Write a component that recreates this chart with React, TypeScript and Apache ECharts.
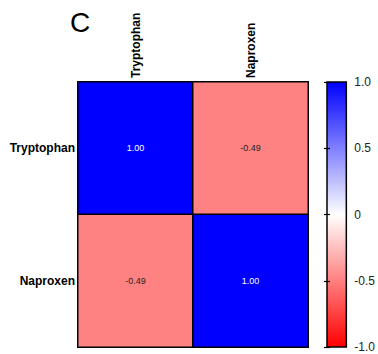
import React, { useEffect, useRef } from "react";
import * as echarts from "echarts";

const colCategories = ["Tryptophan", "Naproxen"];
const rowCategories = ["Tryptophan", "Naproxen"];
// [colIndex, rowIndex, value]
const correlations: [number, number, number][] = [
  [0, 0, 1.0],
  [1, 0, -0.49],
  [0, 1, -0.49],
  [1, 1, 1.0],
];
const colorbarTicks = [-1, -0.5, 0, 0.5, 1];
const colorbarLabels: Record<string, string> = { "-1": "-1.0", "-0.5": "-0.5", "0": "0", "0.5": "0.5", "1": "1.0" };
const panelLetter = "C";

export default function App() {
  const ref = useRef<HTMLDivElement>(null);
  useEffect(() => {
    if (!ref.current) return;
    const chart = echarts.init(ref.current, undefined, { renderer: "svg" });
    const font = "'Liberation Sans', Arial, sans-serif";
    chart.setOption({
      animation: false,
      textStyle: { fontFamily: font },
      title: {
        text: panelLetter,
        left: 65,
        top: 3,
        textStyle: { fontSize: 28, fontWeight: "normal", color: "#000", fontFamily: font },
      },
      grid: [
        { left: 78, top: 82, width: 230, height: 265 },
        {
          left: 327,
          top: 82,
          width: 20,
          height: 265,
          show: true,
          borderColor: "#000",
          borderWidth: 1.5,
          backgroundColor: new echarts.graphic.LinearGradient(0, 0, 0, 1, [
            { offset: 0, color: "#0000ff" },
            { offset: 0.5, color: "#ffffff" },
            { offset: 1, color: "#ff0000" },
          ]),
        },
      ],
      xAxis: [
        {
          type: "category",
          gridIndex: 0,
          data: colCategories,
          position: "top",
          axisLine: { show: false },
          axisTick: { show: false },
          splitLine: { show: false },
          axisLabel: { rotate: -90, fontWeight: "bold", fontSize: 12, color: "#000", margin: 4, fontFamily: font },
        },
        {
          type: "value",
          gridIndex: 1,
          show: false,
        },
      ],
      yAxis: [
        {
          type: "category",
          gridIndex: 0,
          data: rowCategories,
          inverse: true,
          axisLine: { show: false },
          axisTick: { show: false },
          splitLine: { show: false },
          axisLabel: { fontWeight: "bold", fontSize: 12, color: "#000", margin: 3, fontFamily: font },
        },
        {
          type: "value",
          gridIndex: 1,
          position: "right",
          min: -1,
          max: 1,
          interval: 0.5,
          axisLine: { show: false },
          splitLine: { show: false },
          axisTick: { show: true, inside: true, length: 3, lineStyle: { color: "#000", width: 1.2 } },
          axisLabel: {
            fontSize: 12,
            color: "#222",
            margin: 8,
            fontFamily: font,
            formatter: (v: number) => colorbarLabels[String(v)] ?? String(v),
          },
        },
        {
          type: "value",
          gridIndex: 1,
          position: "left",
          min: -1,
          max: 1,
          interval: 0.5,
          axisLine: { show: false },
          splitLine: { show: false },
          axisTick: { show: true, inside: true, length: 3, lineStyle: { color: "#000", width: 1.2 } },
          axisLabel: { show: false },
        },
      ],
      visualMap: {
        show: false,
        min: colorbarTicks[0],
        max: colorbarTicks[colorbarTicks.length - 1],
        seriesIndex: 0,
        inRange: { color: ["#ff0000", "#ffffff", "#0000ff"] },
      },
      series: [
        {
          type: "heatmap",
          xAxisIndex: 0,
          yAxisIndex: 0,
          data: correlations.map(([x, y, v]) => ({
            value: [x, y, v],
            label: { color: v > 0.5 ? "#ffffff" : "#222222" },
          })),
          itemStyle: { borderColor: "#000", borderWidth: 1.5 },
          label: {
            show: true,
            fontSize: 9,
            fontFamily: font,
            formatter: (p: any) => (p.value[2] as number).toFixed(2),
          },
        },
      ],
    });
    return () => chart.dispose();
  }, []);
  return (
    <div
      ref={ref}
      style={{ position: "fixed", left: 0, top: 0, width: 378, height: 354, background: "#fff" }}
    />
  );
}
